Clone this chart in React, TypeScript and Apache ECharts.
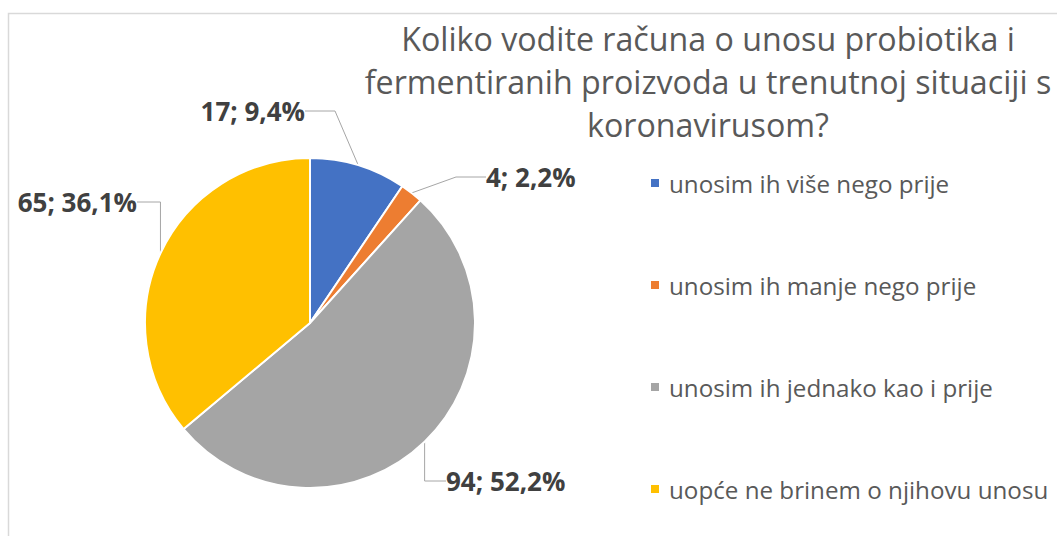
import React, { useEffect, useRef } from "react";
import * as echarts from "echarts";

const titleText =
  "Koliko vodite računa o unosu probiotika i\nfermentiranih proizvoda u trenutnoj situaciji s\nkoronavirusom?";
const categories = [
  "unosim ih više nego prije",
  "unosim ih manje nego prije",
  "unosim ih jednako kao i prije",
  "uopće ne brinem o njihovu unosu",
];
const values = [17, 4, 94, 65];
const colors = ["#4472C4", "#ED7D31", "#A5A5A5", "#FFC000"];

// label anchor positions (style only)
const labelPos = [
  { x: 305, y: 111, align: "right" },
  { x: 486, y: 177, align: "left" },
  { x: 446, y: 481, align: "left" },
  { x: 137, y: 202, align: "right" },
];

const FONT = "'Open Sans', 'Noto Sans', sans-serif";

export default function App() {
  const ref = useRef<HTMLDivElement>(null);
  useEffect(() => {
    document.body.style.margin = "0";
    const chart = echarts.init(ref.current!, null, { renderer: "svg" });
    chart.setOption({
      animation: false,
      backgroundColor: "#ffffff",
      title: {
        text: titleText,
        left: 708,
        top: 17,
        padding: 0,
        textAlign: "center",
        textStyle: {
          fontFamily: FONT,
          fontSize: 32.2,
          fontWeight: "normal",
          color: "#595959",
          lineHeight: 43,
        },
      },
      legend: {
        orient: "vertical",
        left: 649,
        top: 171,
        padding: 0,
        itemWidth: 10,
        itemHeight: 10,
        itemGap: 78,
        icon: "rect",
        data: categories,
        textStyle: {
          fontFamily: FONT,
          fontSize: 24.2,
          color: "#595959",
          lineHeight: 24,
          padding: [0, 0, 0, 4],
        },
      },
      graphic: [
        {
          type: "rect",
          shape: { x: 8.5, y: 13.5, width: 1200, height: 700 },
          style: { fill: "none", stroke: "#D9D9D9", lineWidth: 1.5 },
          silent: true,
          z: -10,
        },
      ],
      series: [
        {
          type: "pie",
          center: [310, 323],
          radius: 165,
          startAngle: 90,
          clockwise: true,
          data: categories.map((name, i) => ({
            name,
            value: values[i],
            itemStyle: { color: colors[i] },
          })),
          itemStyle: { borderColor: "#ffffff", borderWidth: 2 },
          label: {
            show: true,
            fontFamily: FONT,
            fontSize: 26,
            fontWeight: "bold",
            color: "#404040",
            overflow: "none",
            edgeDistance: 0,
            formatter: (p: any) =>
              `${p.value}; ${p.percent.toFixed(1).replace(".", ",")}%`,
          },
          labelLine: {
            show: true,
            lineStyle: { color: "#A6A6A6", width: 1 },
          },
          labelLayout: (params: any) => {
            const pos = labelPos[params.dataIndex];
            return {
              x: pos.x,
              y: pos.y,
              align: pos.align,
              verticalAlign: "middle",
            };
          },
        },
      ],
    });
    return () => chart.dispose();
  }, []);
  return <div ref={ref} style={{ width: 1057, height: 536 }} />;
}
